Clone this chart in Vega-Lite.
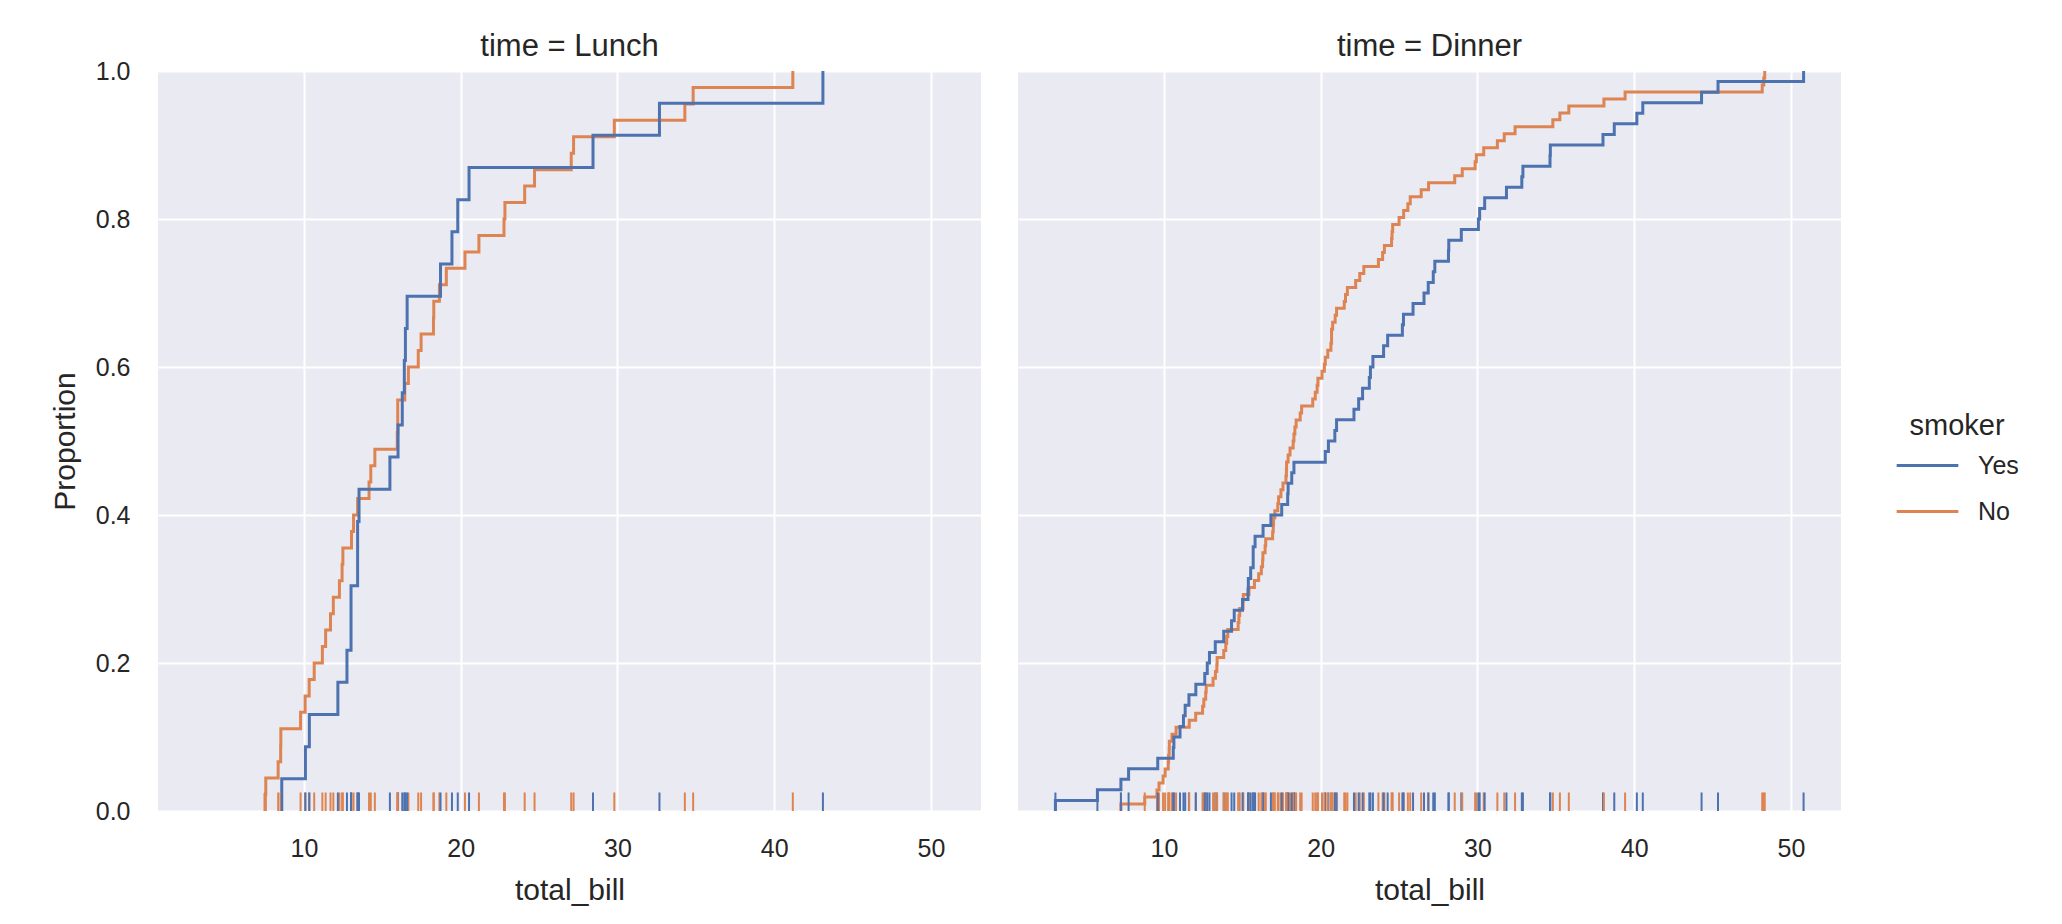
{
  "$schema": "https://vega.github.io/schema/vega-lite/v6.json",
  "background": "white",
  "padding": {"left": 50, "top": 31, "right": 5, "bottom": 5},
  "data": {"values": [
    {"total_bill":16.99,"smoker":"No","time":"Dinner"},{"total_bill":10.34,"smoker":"No","time":"Dinner"},{"total_bill":21.01,"smoker":"No","time":"Dinner"},{"total_bill":23.68,"smoker":"No","time":"Dinner"},{"total_bill":24.59,"smoker":"No","time":"Dinner"},{"total_bill":25.29,"smoker":"No","time":"Dinner"},{"total_bill":8.77,"smoker":"No","time":"Dinner"},{"total_bill":26.88,"smoker":"No","time":"Dinner"},{"total_bill":15.04,"smoker":"No","time":"Dinner"},{"total_bill":14.78,"smoker":"No","time":"Dinner"},
    {"total_bill":10.27,"smoker":"No","time":"Dinner"},{"total_bill":35.26,"smoker":"No","time":"Dinner"},{"total_bill":15.42,"smoker":"No","time":"Dinner"},{"total_bill":18.43,"smoker":"No","time":"Dinner"},{"total_bill":14.83,"smoker":"No","time":"Dinner"},{"total_bill":21.58,"smoker":"No","time":"Dinner"},{"total_bill":10.33,"smoker":"No","time":"Dinner"},{"total_bill":16.29,"smoker":"No","time":"Dinner"},{"total_bill":16.97,"smoker":"No","time":"Dinner"},{"total_bill":20.65,"smoker":"No","time":"Dinner"},
    {"total_bill":17.92,"smoker":"No","time":"Dinner"},{"total_bill":20.29,"smoker":"No","time":"Dinner"},{"total_bill":15.77,"smoker":"No","time":"Dinner"},{"total_bill":39.42,"smoker":"No","time":"Dinner"},{"total_bill":19.82,"smoker":"No","time":"Dinner"},{"total_bill":17.81,"smoker":"No","time":"Dinner"},{"total_bill":13.37,"smoker":"No","time":"Dinner"},{"total_bill":12.69,"smoker":"No","time":"Dinner"},{"total_bill":21.7,"smoker":"No","time":"Dinner"},{"total_bill":19.65,"smoker":"No","time":"Dinner"},
    {"total_bill":9.55,"smoker":"No","time":"Dinner"},{"total_bill":18.35,"smoker":"No","time":"Dinner"},{"total_bill":15.06,"smoker":"No","time":"Dinner"},{"total_bill":20.69,"smoker":"No","time":"Dinner"},{"total_bill":17.78,"smoker":"No","time":"Dinner"},{"total_bill":24.06,"smoker":"No","time":"Dinner"},{"total_bill":16.31,"smoker":"No","time":"Dinner"},{"total_bill":16.93,"smoker":"No","time":"Dinner"},{"total_bill":18.69,"smoker":"No","time":"Dinner"},{"total_bill":31.27,"smoker":"No","time":"Dinner"},
    {"total_bill":16.04,"smoker":"No","time":"Dinner"},{"total_bill":17.46,"smoker":"No","time":"Dinner"},{"total_bill":13.94,"smoker":"No","time":"Dinner"},{"total_bill":9.68,"smoker":"No","time":"Dinner"},{"total_bill":30.4,"smoker":"No","time":"Dinner"},{"total_bill":18.29,"smoker":"No","time":"Dinner"},{"total_bill":22.23,"smoker":"No","time":"Dinner"},{"total_bill":32.4,"smoker":"No","time":"Dinner"},{"total_bill":28.55,"smoker":"No","time":"Dinner"},{"total_bill":18.04,"smoker":"No","time":"Dinner"},
    {"total_bill":12.54,"smoker":"No","time":"Dinner"},{"total_bill":10.29,"smoker":"No","time":"Dinner"},{"total_bill":34.81,"smoker":"No","time":"Dinner"},{"total_bill":9.94,"smoker":"No","time":"Dinner"},{"total_bill":25.56,"smoker":"No","time":"Dinner"},{"total_bill":19.49,"smoker":"No","time":"Dinner"},{"total_bill":38.01,"smoker":"Yes","time":"Dinner"},{"total_bill":26.41,"smoker":"No","time":"Dinner"},{"total_bill":11.24,"smoker":"Yes","time":"Dinner"},{"total_bill":48.27,"smoker":"No","time":"Dinner"},
    {"total_bill":20.29,"smoker":"Yes","time":"Dinner"},{"total_bill":13.81,"smoker":"Yes","time":"Dinner"},{"total_bill":11.02,"smoker":"Yes","time":"Dinner"},{"total_bill":18.29,"smoker":"Yes","time":"Dinner"},{"total_bill":17.59,"smoker":"No","time":"Dinner"},{"total_bill":20.08,"smoker":"No","time":"Dinner"},{"total_bill":16.45,"smoker":"No","time":"Dinner"},{"total_bill":3.07,"smoker":"Yes","time":"Dinner"},{"total_bill":20.23,"smoker":"No","time":"Dinner"},{"total_bill":15.01,"smoker":"Yes","time":"Dinner"},
    {"total_bill":12.02,"smoker":"No","time":"Dinner"},{"total_bill":17.07,"smoker":"No","time":"Dinner"},{"total_bill":26.86,"smoker":"Yes","time":"Dinner"},{"total_bill":25.28,"smoker":"Yes","time":"Dinner"},{"total_bill":14.73,"smoker":"No","time":"Dinner"},{"total_bill":10.51,"smoker":"No","time":"Dinner"},{"total_bill":17.92,"smoker":"Yes","time":"Dinner"},{"total_bill":27.2,"smoker":"No","time":"Lunch"},{"total_bill":22.76,"smoker":"No","time":"Lunch"},{"total_bill":17.29,"smoker":"No","time":"Lunch"},
    {"total_bill":19.44,"smoker":"Yes","time":"Lunch"},{"total_bill":16.66,"smoker":"No","time":"Lunch"},{"total_bill":10.07,"smoker":"No","time":"Lunch"},{"total_bill":32.68,"smoker":"Yes","time":"Lunch"},{"total_bill":15.98,"smoker":"No","time":"Lunch"},{"total_bill":34.83,"smoker":"No","time":"Lunch"},{"total_bill":13.03,"smoker":"No","time":"Lunch"},{"total_bill":18.28,"smoker":"No","time":"Lunch"},{"total_bill":24.71,"smoker":"No","time":"Lunch"},{"total_bill":21.16,"smoker":"No","time":"Lunch"},
    {"total_bill":28.97,"smoker":"Yes","time":"Dinner"},{"total_bill":22.49,"smoker":"No","time":"Dinner"},{"total_bill":5.75,"smoker":"Yes","time":"Dinner"},{"total_bill":16.32,"smoker":"Yes","time":"Dinner"},{"total_bill":22.75,"smoker":"No","time":"Dinner"},{"total_bill":40.17,"smoker":"Yes","time":"Dinner"},{"total_bill":27.28,"smoker":"Yes","time":"Dinner"},{"total_bill":12.03,"smoker":"Yes","time":"Dinner"},{"total_bill":21.01,"smoker":"Yes","time":"Dinner"},{"total_bill":12.46,"smoker":"No","time":"Dinner"},
    {"total_bill":11.35,"smoker":"Yes","time":"Dinner"},{"total_bill":15.38,"smoker":"Yes","time":"Dinner"},{"total_bill":44.3,"smoker":"Yes","time":"Dinner"},{"total_bill":22.42,"smoker":"Yes","time":"Dinner"},{"total_bill":20.92,"smoker":"No","time":"Dinner"},{"total_bill":15.36,"smoker":"Yes","time":"Dinner"},{"total_bill":20.49,"smoker":"Yes","time":"Dinner"},{"total_bill":25.21,"smoker":"Yes","time":"Dinner"},{"total_bill":18.24,"smoker":"No","time":"Dinner"},{"total_bill":14.31,"smoker":"Yes","time":"Dinner"},
    {"total_bill":14.0,"smoker":"No","time":"Dinner"},{"total_bill":7.25,"smoker":"No","time":"Dinner"},{"total_bill":38.07,"smoker":"No","time":"Dinner"},{"total_bill":23.95,"smoker":"No","time":"Dinner"},{"total_bill":25.71,"smoker":"No","time":"Dinner"},{"total_bill":17.31,"smoker":"No","time":"Dinner"},{"total_bill":29.93,"smoker":"No","time":"Dinner"},{"total_bill":10.65,"smoker":"No","time":"Lunch"},{"total_bill":12.43,"smoker":"No","time":"Lunch"},{"total_bill":24.08,"smoker":"No","time":"Lunch"},
    {"total_bill":11.69,"smoker":"No","time":"Lunch"},{"total_bill":13.42,"smoker":"No","time":"Lunch"},{"total_bill":14.26,"smoker":"No","time":"Lunch"},{"total_bill":15.95,"smoker":"No","time":"Lunch"},{"total_bill":12.48,"smoker":"No","time":"Lunch"},{"total_bill":29.8,"smoker":"No","time":"Lunch"},{"total_bill":8.52,"smoker":"No","time":"Lunch"},{"total_bill":14.52,"smoker":"No","time":"Lunch"},{"total_bill":11.38,"smoker":"No","time":"Lunch"},{"total_bill":22.82,"smoker":"No","time":"Lunch"},
    {"total_bill":19.08,"smoker":"No","time":"Lunch"},{"total_bill":20.27,"smoker":"No","time":"Lunch"},{"total_bill":11.17,"smoker":"No","time":"Lunch"},{"total_bill":12.26,"smoker":"No","time":"Lunch"},{"total_bill":18.26,"smoker":"No","time":"Lunch"},{"total_bill":8.51,"smoker":"No","time":"Lunch"},{"total_bill":10.33,"smoker":"No","time":"Lunch"},{"total_bill":14.15,"smoker":"No","time":"Lunch"},{"total_bill":16.0,"smoker":"Yes","time":"Lunch"},{"total_bill":13.16,"smoker":"No","time":"Lunch"},
    {"total_bill":17.47,"smoker":"No","time":"Lunch"},{"total_bill":34.3,"smoker":"No","time":"Lunch"},{"total_bill":41.19,"smoker":"No","time":"Lunch"},{"total_bill":27.05,"smoker":"No","time":"Lunch"},{"total_bill":16.43,"smoker":"No","time":"Lunch"},{"total_bill":8.35,"smoker":"No","time":"Lunch"},{"total_bill":18.64,"smoker":"No","time":"Lunch"},{"total_bill":11.87,"smoker":"No","time":"Lunch"},{"total_bill":9.78,"smoker":"No","time":"Lunch"},{"total_bill":7.51,"smoker":"No","time":"Lunch"},
    {"total_bill":14.07,"smoker":"No","time":"Dinner"},{"total_bill":13.13,"smoker":"No","time":"Dinner"},{"total_bill":17.26,"smoker":"No","time":"Dinner"},{"total_bill":24.55,"smoker":"No","time":"Dinner"},{"total_bill":19.77,"smoker":"No","time":"Dinner"},{"total_bill":29.85,"smoker":"No","time":"Dinner"},{"total_bill":48.17,"smoker":"No","time":"Dinner"},{"total_bill":25.0,"smoker":"No","time":"Dinner"},{"total_bill":13.39,"smoker":"No","time":"Dinner"},{"total_bill":16.49,"smoker":"No","time":"Dinner"},
    {"total_bill":21.5,"smoker":"No","time":"Dinner"},{"total_bill":12.66,"smoker":"No","time":"Dinner"},{"total_bill":16.21,"smoker":"No","time":"Dinner"},{"total_bill":13.81,"smoker":"No","time":"Dinner"},{"total_bill":17.51,"smoker":"Yes","time":"Dinner"},{"total_bill":24.52,"smoker":"No","time":"Dinner"},{"total_bill":20.76,"smoker":"No","time":"Dinner"},{"total_bill":31.71,"smoker":"No","time":"Dinner"},{"total_bill":10.59,"smoker":"Yes","time":"Dinner"},{"total_bill":10.63,"smoker":"Yes","time":"Dinner"},
    {"total_bill":50.81,"smoker":"Yes","time":"Dinner"},{"total_bill":15.81,"smoker":"Yes","time":"Dinner"},{"total_bill":7.25,"smoker":"Yes","time":"Dinner"},{"total_bill":31.85,"smoker":"Yes","time":"Dinner"},{"total_bill":16.82,"smoker":"Yes","time":"Dinner"},{"total_bill":32.9,"smoker":"Yes","time":"Dinner"},{"total_bill":17.89,"smoker":"Yes","time":"Dinner"},{"total_bill":14.48,"smoker":"Yes","time":"Dinner"},{"total_bill":9.6,"smoker":"Yes","time":"Dinner"},{"total_bill":34.63,"smoker":"Yes","time":"Dinner"},
    {"total_bill":34.65,"smoker":"Yes","time":"Dinner"},{"total_bill":23.33,"smoker":"Yes","time":"Dinner"},{"total_bill":45.35,"smoker":"Yes","time":"Dinner"},{"total_bill":23.17,"smoker":"Yes","time":"Dinner"},{"total_bill":40.55,"smoker":"Yes","time":"Dinner"},{"total_bill":20.69,"smoker":"No","time":"Dinner"},{"total_bill":20.9,"smoker":"Yes","time":"Dinner"},{"total_bill":30.46,"smoker":"Yes","time":"Dinner"},{"total_bill":18.15,"smoker":"Yes","time":"Dinner"},{"total_bill":23.1,"smoker":"Yes","time":"Dinner"},
    {"total_bill":15.69,"smoker":"Yes","time":"Dinner"},{"total_bill":19.81,"smoker":"Yes","time":"Lunch"},{"total_bill":28.44,"smoker":"Yes","time":"Lunch"},{"total_bill":15.48,"smoker":"Yes","time":"Lunch"},{"total_bill":16.58,"smoker":"Yes","time":"Lunch"},{"total_bill":7.56,"smoker":"No","time":"Lunch"},{"total_bill":10.34,"smoker":"Yes","time":"Lunch"},{"total_bill":43.11,"smoker":"Yes","time":"Lunch"},{"total_bill":13.0,"smoker":"Yes","time":"Lunch"},{"total_bill":13.51,"smoker":"Yes","time":"Lunch"},
    {"total_bill":18.71,"smoker":"Yes","time":"Lunch"},{"total_bill":12.74,"smoker":"Yes","time":"Lunch"},{"total_bill":13.0,"smoker":"Yes","time":"Lunch"},{"total_bill":16.4,"smoker":"Yes","time":"Lunch"},{"total_bill":20.53,"smoker":"Yes","time":"Lunch"},{"total_bill":16.47,"smoker":"Yes","time":"Lunch"},{"total_bill":26.59,"smoker":"Yes","time":"Dinner"},{"total_bill":38.73,"smoker":"Yes","time":"Dinner"},{"total_bill":24.27,"smoker":"Yes","time":"Dinner"},{"total_bill":12.76,"smoker":"Yes","time":"Dinner"},
    {"total_bill":30.06,"smoker":"Yes","time":"Dinner"},{"total_bill":25.89,"smoker":"Yes","time":"Dinner"},{"total_bill":48.33,"smoker":"No","time":"Dinner"},{"total_bill":13.27,"smoker":"Yes","time":"Dinner"},{"total_bill":28.17,"smoker":"Yes","time":"Dinner"},{"total_bill":12.9,"smoker":"Yes","time":"Dinner"},{"total_bill":28.15,"smoker":"Yes","time":"Dinner"},{"total_bill":11.59,"smoker":"Yes","time":"Dinner"},{"total_bill":7.74,"smoker":"Yes","time":"Dinner"},{"total_bill":30.14,"smoker":"Yes","time":"Dinner"},
    {"total_bill":12.16,"smoker":"Yes","time":"Lunch"},{"total_bill":13.42,"smoker":"Yes","time":"Lunch"},{"total_bill":8.58,"smoker":"Yes","time":"Lunch"},{"total_bill":15.98,"smoker":"No","time":"Lunch"},{"total_bill":13.42,"smoker":"Yes","time":"Lunch"},{"total_bill":16.27,"smoker":"Yes","time":"Lunch"},{"total_bill":10.09,"smoker":"Yes","time":"Lunch"},{"total_bill":20.45,"smoker":"No","time":"Dinner"},{"total_bill":13.28,"smoker":"No","time":"Dinner"},{"total_bill":22.12,"smoker":"Yes","time":"Dinner"},
    {"total_bill":24.01,"smoker":"Yes","time":"Dinner"},{"total_bill":15.69,"smoker":"Yes","time":"Dinner"},{"total_bill":11.61,"smoker":"No","time":"Dinner"},{"total_bill":10.77,"smoker":"No","time":"Dinner"},{"total_bill":15.53,"smoker":"Yes","time":"Dinner"},{"total_bill":10.07,"smoker":"No","time":"Dinner"},{"total_bill":12.6,"smoker":"Yes","time":"Dinner"},{"total_bill":32.83,"smoker":"Yes","time":"Dinner"},{"total_bill":35.83,"smoker":"No","time":"Dinner"},{"total_bill":29.03,"smoker":"No","time":"Dinner"},
    {"total_bill":27.18,"smoker":"Yes","time":"Dinner"},{"total_bill":22.67,"smoker":"Yes","time":"Dinner"},{"total_bill":17.82,"smoker":"No","time":"Dinner"},{"total_bill":18.78,"smoker":"No","time":"Dinner"}
  ]},
  "facet": {
    "column": {
      "field": "time", "type": "nominal", "sort": ["Lunch", "Dinner"], "title": null,
      "header": {"labelExpr": "'time = ' + datum.value", "labelFontSize": 31, "labelFont": "Liberation Sans", "labelColor": "#262626", "labelPadding": 8}
    }
  },
  "spacing": 37,
  "spec": {
    "width": 823,
    "height": 740,
    "layer": [
      {
        "transform": [
          {"aggregate": [{"op": "count", "as": "n"}], "groupby": ["time", "smoker", "total_bill"]},
          {"stack": "n", "groupby": ["time", "smoker"], "sort": [{"field": "total_bill", "order": "ascending"}], "as": ["lo", "hi"], "offset": "normalize"},
          {"fold": ["lo", "hi"], "as": ["edge", "Proportion"]}
        ],
        "mark": {"type": "line", "strokeWidth": 3, "clip": true},
        "encoding": {
          "x": {"field": "total_bill", "type": "quantitative", "scale": {"domain": [0.683, 53.197], "nice": false, "zero": false}, "axis": {"values": [10, 20, 30, 40, 50], "title": "total_bill"}},
          "y": {"field": "Proportion", "type": "quantitative", "scale": {"domain": [0, 1], "nice": false}, "axis": {"values": [0, 0.2, 0.4, 0.6, 0.8, 1.0], "format": ".1f", "title": "Proportion"}},
          "color": {"field": "smoker", "type": "nominal", "scale": {"domain": ["Yes", "No"], "range": ["#4c72b0", "#dd8452"]}, "title": "smoker"},
          "order": [{"field": "total_bill", "type": "quantitative"}, {"field": "Proportion", "type": "quantitative"}]
        }
      },
      {
        "mark": {"type": "rule", "strokeWidth": 2},
        "encoding": {
          "x": {"field": "total_bill", "type": "quantitative"},
          "y": {"datum": 0},
          "y2": {"datum": 0.025},
          "color": {"field": "smoker", "type": "nominal"}
        }
      }
    ]
  },
  "config": {
    "font": "Liberation Sans",
    "view": {"fill": "#eaeaf2", "stroke": null},
    "axis": {
      "domain": false, "ticks": false, "grid": true, "gridColor": "#ffffff", "gridWidth": 2,
      "labelFont": "Liberation Sans", "labelFontSize": 25, "labelColor": "#262626",
      "titleFont": "Liberation Sans", "titleFontSize": 30, "titleFontWeight": "normal", "titleColor": "#262626"
    },
    "axisX": {"labelPadding": 24, "titlePadding": 14},
    "axisY": {"labelPadding": 28, "titlePadding": 15},
    "legend": {
      "titleFont": "Liberation Sans", "titleFontSize": 29, "titleFontWeight": "normal", "titleColor": "#262626",
      "labelFont": "Liberation Sans", "labelFontSize": 25, "labelColor": "#262626",
      "symbolType": "stroke", "symbolSize": 3800, "symbolStrokeWidth": 3,
      "titleAnchor": "middle", "titleAlign": "center", "titlePadding": -8, "rowPadding": -4, "labelOffset": 18, "offset": 54, "padding": 0,
      "layout": {"right": {"anchor": "middle"}}
    }
  }
}
